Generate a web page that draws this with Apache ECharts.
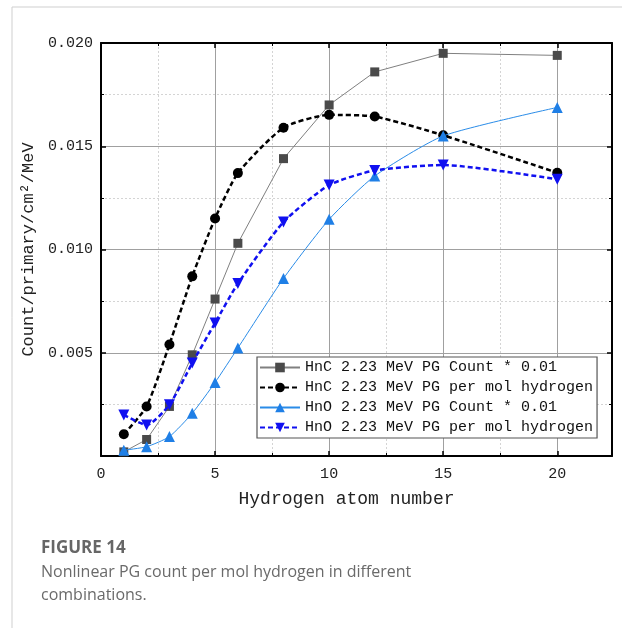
<!DOCTYPE html>
<html>
<head>
<meta charset="utf-8">
<script src="https://cdn.jsdelivr.net/npm/echarts@6/dist/echarts.min.js"></script>
<style>
html,body{margin:0;padding:0;background:#fff;}
#chart{width:622px;height:628px;}
</style>
</head>
<body>
<div id="chart"></div>
<script>
// ---- data ----
var hydrogenAtoms = [1, 2, 3, 4, 5, 6, 8, 10, 12, 15, 20];
var hncCount  = [0.0002, 0.0008, 0.0024, 0.0049, 0.0076, 0.0103, 0.0144, 0.0170, 0.0186, 0.0195, 0.0194];
var hncPerMol = [0.00105, 0.0024, 0.0054, 0.0087, 0.0115, 0.0137, 0.0159, 0.01652, 0.01644, 0.01553, 0.01372];
var hnoCount  = [0.00028, 0.00045, 0.00094, 0.00207, 0.00356, 0.00523, 0.0086, 0.01146, 0.01356, 0.0155, 0.01688];
var hnoPerMol = [0.00199, 0.0015, 0.00248, 0.0045, 0.00644, 0.00835, 0.01133, 0.01312, 0.01383, 0.01409, 0.0134];
var seriesNames = [
  'HnC 2.23 MeV PG Count * 0.01',
  'HnC 2.23 MeV PG per mol hydrogen',
  'HnO 2.23 MeV PG Count * 0.01',
  'HnO 2.23 MeV PG per mol hydrogen'
];
var xTitle = 'Hydrogen atom number';
var yTitle = 'Count/primary/cm\u00B2/MeV';
var figLabel = 'FIGURE 14';
var captionLines = ['Nonlinear PG count per mol hydrogen in different', 'combinations.'];

function pairs(ys) { return hydrogenAtoms.map(function (x, i) { return [x, ys[i]]; }); }

var MONO = "'Liberation Mono', monospace";
var SANS = "'Open Sans', Lato, sans-serif";
var chart = echarts.init(document.getElementById('chart'), null, { renderer: 'canvas' });

function baseX(pos, showLabel) {
  return {
    type: 'value', position: pos, min: 0, max: 22.4, interval: 5,
    axisLine: { show: true, onZero: false, lineStyle: { color: '#000', width: 2 } },
    axisTick: { show: true, inside: true, length: 5, lineStyle: { color: '#000', width: 1.5 } },
    minorTick: { show: true, splitNumber: 2, length: 3, lineStyle: { color: '#000', width: 1 } },
    axisLabel: { show: showLabel, color: '#222', fontFamily: MONO, fontSize: 15, margin: 11,
      showMaxLabel: false },
    splitLine: { show: showLabel, lineStyle: { color: '#a0a0a0', width: 1 } },
    minorSplitLine: { show: showLabel, lineStyle: { color: '#d4d4d4', width: 1, type: [2, 2] } }
  };
}
function baseY(pos, showLabel) {
  return {
    type: 'value', position: pos, min: 0, max: 0.02, interval: 0.005,
    axisLine: { show: true, onZero: false, lineStyle: { color: '#000', width: 2 } },
    axisTick: { show: true, inside: true, length: 5, lineStyle: { color: '#000', width: 1.5 } },
    minorTick: { show: true, splitNumber: 2, length: 3, lineStyle: { color: '#000', width: 1 } },
    axisLabel: { show: showLabel, color: '#222', fontFamily: MONO, fontSize: 15, margin: 8,
      formatter: function (v) { return v === 0 ? '' : v.toFixed(3); } },
    splitLine: { show: showLabel, lineStyle: { color: '#a0a0a0', width: 1 } },
    minorSplitLine: { show: showLabel, lineStyle: { color: '#d4d4d4', width: 1, type: [2, 2] } }
  };
}

var xMain = baseX('bottom', true);
xMain.name = xTitle;
xMain.nameLocation = 'middle';
xMain.nameGap = 34;
xMain.nameTextStyle = { fontFamily: MONO, fontSize: 18, color: '#222', padding: [0, 20, 0, 0] };
var xTop = baseX('top', false);
var yMain = baseY('left', true);
yMain.name = yTitle;
yMain.nameLocation = 'middle';
yMain.nameGap = 55;
yMain.nameTextStyle = { fontFamily: MONO, fontSize: 17, color: '#222' };
var yRight = baseY('right', false);

var option = {
  backgroundColor: '#fff',
  animation: false,
  grid: { left: 101, top: 43, width: 511, height: 413, containLabel: false },
  xAxis: [xMain, xTop],
  yAxis: [yMain, yRight],
  legend: {
    orient: 'vertical', left: 257, top: 357,
    backgroundColor: '#fff', borderColor: '#555', borderWidth: 1.2, borderRadius: 0,
    padding: [3, 4, 3, 2], itemGap: 5, itemWidth: 40, itemHeight: 12,
    textStyle: { fontFamily: MONO, fontSize: 15, color: '#111' },
    data: seriesNames
  },
  series: [
    {
      name: seriesNames[0], type: 'line', xAxisIndex: 0, yAxisIndex: 0,
      data: pairs(hncCount), symbol: 'rect', symbolSize: 9,
      itemStyle: { color: '#4a4a4a' },
      lineStyle: { color: '#808080', width: 1 }, z: 3
    },
    {
      name: seriesNames[1], type: 'line', data: pairs(hncPerMol),
      symbol: 'circle', symbolSize: 10, smooth: 0.2,
      itemStyle: { color: '#000' },
      lineStyle: { color: '#000', width: 2.5, type: [5, 3] }, z: 4
    },
    {
      name: seriesNames[2], type: 'line', data: pairs(hnoCount),
      symbol: 'triangle', symbolSize: 11, smooth: 0.2,
      itemStyle: { color: '#1f7fe6' },
      lineStyle: { color: '#2a8ce8', width: 1 }, z: 5
    },
    {
      name: seriesNames[3], type: 'line', data: pairs(hnoPerMol),
      symbol: 'triangle', symbolRotate: 180, symbolSize: 11, smooth: 0.2,
      itemStyle: { color: '#1010f0' },
      lineStyle: { color: '#1010f0', width: 2.5, type: [5, 3] }, z: 6
    }
  ],
  graphic: [
    { type: 'line', shape: { x1: 12, y1: 7, x2: 622, y2: 7 }, style: { stroke: '#cfcfcf', lineWidth: 1 }, silent: true },
    { type: 'line', shape: { x1: 12, y1: 7, x2: 12, y2: 628 }, style: { stroke: '#cfcfcf', lineWidth: 1 }, silent: true },
    { type: 'text', left: 41, top: 540, style: { text: figLabel, fill: '#666', font: 'bold 17px ' + SANS } },
    { type: 'text', left: 41, top: 564, style: { text: captionLines[0], fill: '#6a6a6a', font: '16px ' + SANS } },
    { type: 'text', left: 41, top: 587, style: { text: captionLines[1], fill: '#6a6a6a', font: '16px ' + SANS } }
  ]
};
chart.setOption(option);
</script>
</body>
</html>
